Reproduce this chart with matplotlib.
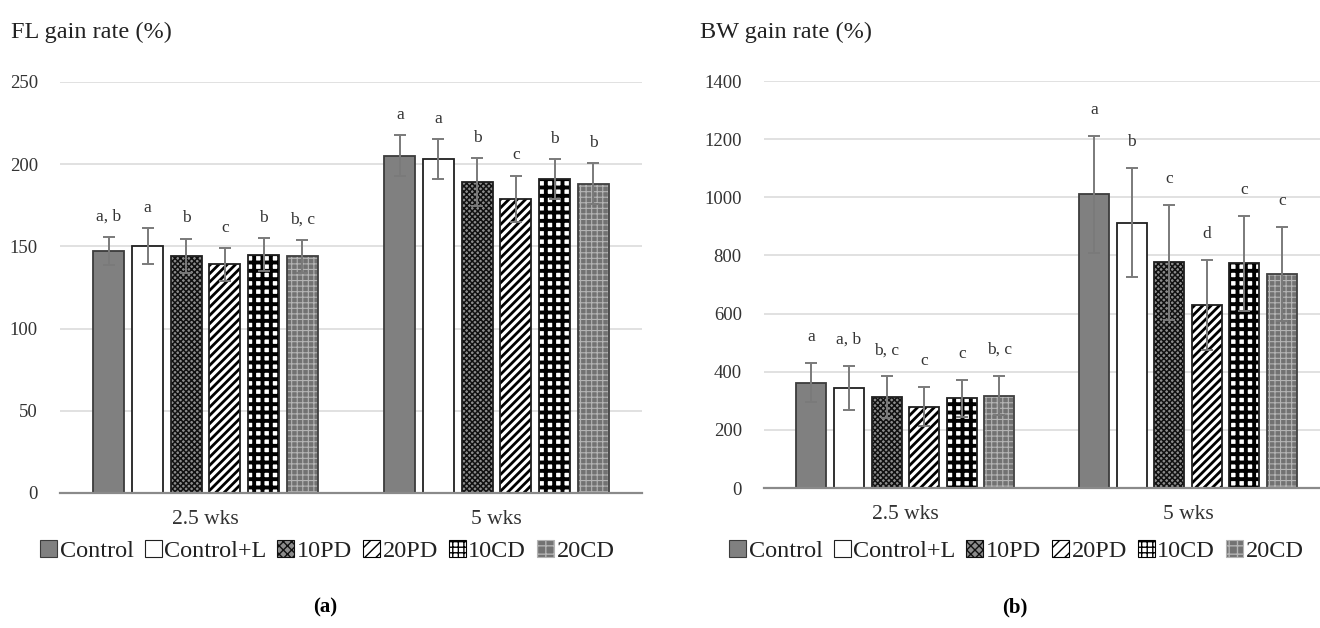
import numpy as np
import matplotlib
matplotlib.use("Agg")
import matplotlib.pyplot as plt
from matplotlib.patches import Patch

plt.rcParams['font.family'] = ['Liberation Serif', 'DejaVu Serif']
plt.rcParams['hatch.linewidth'] = 1.0

groups = ["Control", "Control+L", "10PD", "20PD", "10CD", "20CD"]
times = ["2.5 wks", "5 wks"]

# FL gain rate (%), rows = groups, cols = time points
fl_mean = [[147, 205], [150, 203], [144, 189], [139, 179], [145, 191], [144, 188]]
fl_err = [[8.5, 12.5], [11, 12], [10.5, 14.5], [10, 14], [10, 12], [10, 12.5]]
fl_letters = [["a, b", "a"], ["a", "a"], ["b", "b"], ["c", "c"], ["b", "b"], ["b, c", "b"]]

# BW gain rate (%)
bw_mean = [[362, 1010], [345, 913], [313, 776], [280, 630], [308, 773], [318, 735]]
bw_err = [[67, 202], [75, 187], [71, 199], [67, 155], [63, 163], [67, 162]]
bw_letters = [["a", "a"], ["a, b", "b"], ["b, c", "c"], ["c", "d"], ["c", "c"], ["b, c", "c"]]

# fill, hatch, hatch colour, hatch linewidth, outline colour
styles = [
    ("#808080", None, "#808080", 1.0, "#3c3c3c"),
    ("#ffffff", None, "#ffffff", 1.0, "#202020"),
    ("#8c8c8c", "xxxxxx", "#111111", 1.1, "#202020"),
    ("#ffffff", "////", "#000000", 2.0, "#202020"),
    ("#ffffff", "++", "#000000", 2.8, "#202020"),
    ("#727272", "+++", "#b4b4b4", 0.8, "#404040"),
]
# lighter hatch for the small legend keys
legend_hatch = [None, None, "xxxx", "///", "+++", "++"]

pitch = 0.133
width = 0.106


def draw_panel(ax, means, errs, letters, ymax, ystep, xmax, txt_off):
    x = np.arange(len(times))
    handles = []
    for i, g in enumerate(groups):
        fc, hatch, hc, hlw, ec = styles[i]
        xi = x + (i - 2.5) * pitch
        with plt.rc_context({'hatch.linewidth': hlw}):
            bars = ax.bar(xi, means[i], width, color=fc, edgecolor=hc,
                          hatch=hatch, linewidth=0, zorder=2)
            for b in bars:
                try:
                    b.set_hatch_linewidth(hlw)
                except AttributeError:
                    pass
        ax.bar(xi, means[i], width, fill=False, edgecolor=ec,
               linewidth=1.3, zorder=3)
        ax.errorbar(xi, means[i], yerr=errs[i], fmt='none', ecolor='#7a7a7a',
                    elinewidth=1.4, capsize=4, capthick=1.4, zorder=4)
        for j in range(len(times)):
            ax.annotate(letters[i][j], (xi[j], means[i][j] + errs[i][j]),
                        xytext=(0, txt_off), textcoords='offset points',
                        ha='center', va='bottom', fontsize=12.5, color='#333333')
        h = Patch(facecolor=fc, edgecolor=hc if hatch else ec,
                  hatch=legend_hatch[i], linewidth=0.8)
        handles.append(h)

    ax.set_xlim(-0.5, xmax)
    ax.set_ylim(0, ymax)
    ax.set_yticks(np.arange(0, ymax + 1, ystep))
    ax.set_xticks(x)
    ax.set_xticklabels(times, fontsize=15.5)
    ax.tick_params(axis='y', length=0, pad=16, labelsize=13.5, labelcolor='#333333')
    ax.tick_params(axis='x', length=0, pad=12, labelcolor='#333333')
    ax.grid(axis='y', color='#d9d9d9', linewidth=1.1, zorder=0)
    ax.set_axisbelow(True)
    for s in ['top', 'right', 'left']:
        ax.spines[s].set_visible(False)
    ax.spines['bottom'].set_color('#8a8a8a')
    ax.spines['bottom'].set_linewidth(1.6)
    ax.spines['bottom'].set_zorder(5)
    return handles


fig = plt.figure(figsize=(13.2, 6.28), dpi=100)

ax1 = fig.add_axes([0.0455, 0.2150, 0.4409, 0.6545])
h1 = draw_panel(ax1, fl_mean, fl_err, fl_letters, 250, 50, 1.5, 9)

ax2 = fig.add_axes([0.5788, 0.2229, 0.4212, 0.6481])
h2 = draw_panel(ax2, bw_mean, bw_err, bw_letters, 1400, 200, 1.467, 13)

fig.text(0.008, 0.948, "FL gain rate (%)", fontsize=17.5, color='#222222', va='center')
fig.text(0.530, 0.948, "BW gain rate (%)", fontsize=17.5, color='#222222', va='center')

leg_kw = dict(ncol=6, frameon=False, fontsize=17.5, handlelength=0.7,
              handleheight=0.7, handletextpad=0.1, columnspacing=0.45,
              borderaxespad=0, labelcolor='#222222')
fig.legend(h1, groups, loc='center', bbox_to_anchor=(0.248, 0.122), **leg_kw)
fig.legend(h2, groups, loc='center', bbox_to_anchor=(0.770, 0.122), **leg_kw)

fig.text(0.246, 0.033, "(a)", fontsize=15, fontweight='bold', ha='center', va='center')
fig.text(0.769, 0.033, "(b)", fontsize=15, fontweight='bold', ha='center', va='center')

fig.savefig("out.png", dpi=100)
